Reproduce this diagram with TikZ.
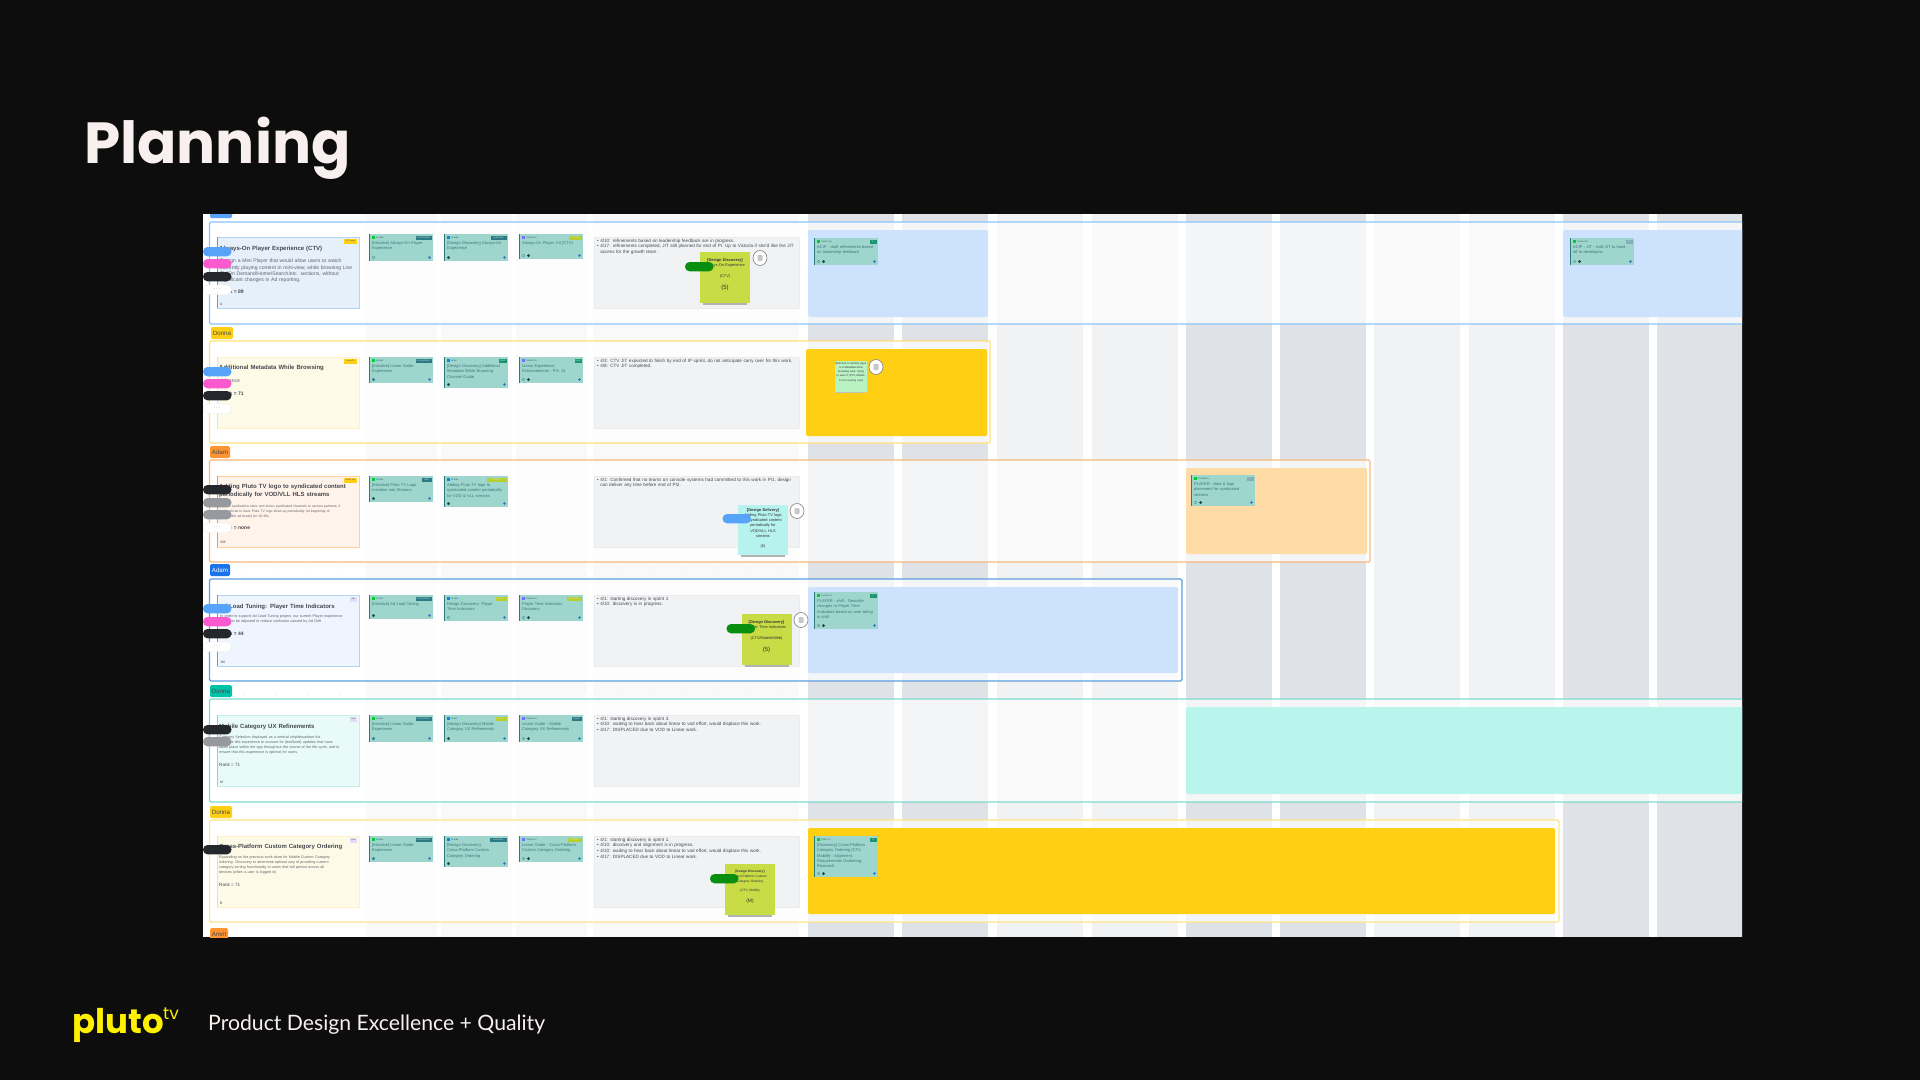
\documentclass[tikz,border=0pt]{standalone}
\usepackage{fontspec}
\setmainfont{Liberation Sans}
\newfontfamily\slidefont{Lato}
\newfontfamily\logofont{Poppins}
\usetikzlibrary{positioning,calc}
\definecolor{slidebg}{RGB}{13,13,14}
\definecolor{slidetxt}{RGB}{248,240,238}
\definecolor{plutoyel}{RGB}{255,240,0}
\definecolor{banddark}{RGB}{223,226,230}
\definecolor{bandlite}{RGB}{241,242,244}
\definecolor{tealcard}{RGB}{158,213,204}
\definecolor{tealedge}{RGB}{45,122,122}
\definecolor{tealtxt}{RGB}{62,118,120}
\definecolor{tealbadge}{RGB}{44,122,132}
\definecolor{limebadge}{RGB}{182,207,44}
\definecolor{greenbadge}{RGB}{24,150,110}
\definecolor{avdark}{RGB}{25,60,62}
\definecolor{avblue}{RGB}{40,120,190}
\definecolor{stickyolive}{RGB}{200,220,70}
\definecolor{stickycyan}{RGB}{182,243,238}
\definecolor{stickygreen}{RGB}{185,243,196}
\definecolor{blockblue}{RGB}{204,226,253}
\definecolor{blockyel}{RGB}{255,207,20}
\definecolor{blockorg}{RGB}{255,220,166}
\definecolor{blockteal}{RGB}{185,245,236}
\definecolor{pillblue}{RGB}{87,163,250}
\definecolor{pillpink}{RGB}{250,90,205}
\definecolor{pilldark}{RGB}{36,40,44}
\definecolor{pillgray}{RGB}{150,153,158}
\definecolor{pillgreen}{RGB}{8,143,16}
\definecolor{inktxt}{RGB}{70,72,78}
\definecolor{rowblue}{RGB}{140,196,248}
\definecolor{rowyel}{RGB}{255,224,122}
\definecolor{roworg}{RGB}{245,185,122}
\definecolor{rowdeep}{RGB}{91,159,220}
\definecolor{rowteal}{RGB}{122,220,207}
\definecolor{rowpale}{RGB}{251,230,138}
\definecolor{tagorange}{RGB}{255,148,50}
\definecolor{tagblue}{RGB}{26,115,232}
\definecolor{tagteal}{RGB}{0,196,168}
\definecolor{boxviolet}{RGB}{225,220,250}
\definecolor{boxblue}{RGB}{230,240,251}
\definecolor{boxyel}{RGB}{254,250,232}
\definecolor{boxorg}{RGB}{255,243,234}
\definecolor{boxsky}{RGB}{238,245,254}
\definecolor{boxcyan}{RGB}{232,251,249}
\tikzset{
  rowframe/.style={line width=1.1pt,rounded corners=1.5pt,fill=white,fill opacity=.68},
  tagnode/.style={anchor=center,inner sep=0pt,font=\fontsize{6.2}{7}\selectfont,text=inktxt},
  titletxt/.style={anchor=north west,inner sep=0pt,align=left,text width=140pt,font=\bfseries\fontsize{6}{8}\selectfont,text=inktxt},
  bodytxt/.style={anchor=north west,inner sep=0pt,align=left,text width=140pt,font=\fontsize{5.1}{6.3}\selectfont,text=inktxt!85},
  smalltxt/.style={anchor=north west,inner sep=0pt,align=left,text width=140pt,font=\fontsize{3.7}{5.1}\selectfont,text=inktxt!85},
  ranktxt/.style={anchor=west,inner sep=0pt,font=\bfseries\fontsize{5}{5.5}\selectfont,text=inktxt},
  lettertxt/.style={anchor=west,inner sep=0pt,font=\fontsize{3.5}{4}\selectfont,text=inktxt},
  notetxt/.style={anchor=north west,inner sep=0pt,align=left,text width=200pt,font=\fontsize{4.6}{5.8}\selectfont,text=inktxt},
  cardtxt/.style={anchor=north west,inner sep=0pt,align=left,text width=60pt,font=\fontsize{4}{5.3}\selectfont,text=tealtxt},
  keytxt/.style={anchor=west,inner sep=0pt,font=\fontsize{2}{2.4}\selectfont,text=tealedge!70!black},
  badgetxt/.style={anchor=center,inner sep=0pt,font=\fontsize{1.9}{2.2}\selectfont,text=white!80!tealbadge},
  stickytxt/.style={anchor=north,inner sep=0pt,align=center,text width=48pt,font=\fontsize{3.9}{5.3}\selectfont,text=black!80},
  pillshape/.style={rounded corners=4.5pt},
  dottxt/.style={anchor=center,inner sep=0pt,font=\bfseries\fontsize{5}{5}\selectfont,text=inktxt},
  every node/.append style={execute at begin node={\hyphenpenalty=10000\relax}}
}
\begin{document}
\begin{tikzpicture}[x=1pt,y=-1pt]
  \useasboundingbox (0,0) rectangle (1920,1080);
  \fill[slidebg] (0,0) rectangle (1920,1080);
  \node[anchor=base west,inner sep=0pt,text=slidetxt,font=\logofont\bfseries\fontsize{58}{58}\selectfont] (slidetitle) at (84,163) {Planning};
  \node[anchor=base west,inner sep=0pt,text=plutoyel,font=\logofont\bfseries\fontsize{34}{34}\selectfont] (plutologo) at (72,1033) {pluto};
  \node[anchor=base west,inner sep=0pt,text=plutoyel,font=\logofont\fontsize{17}{17}\selectfont] (plutotv) at (163,1019) {tv};
  \node[anchor=base west,inner sep=0pt,text=slidetxt,font=\slidefont\fontsize{21.2}{22}\selectfont] (tagline) at (208,1030) {Product Design Excellence + Quality};

  \begin{scope}
    \clip (203,214.5) rectangle (1742,937);
    \fill[white] (203,214) rectangle (1742,937);
    % week columns
    \foreach \x in {366,441,516}{\fill[bandlite!45] (\x,214) rectangle ++(71,723);}
    \fill[bandlite!45] (593,214) rectangle (799,937);
    \foreach \x in {808,902,1186,1280,1563,1657}{\fill[banddark] (\x,214) rectangle ++(86,723);}
    \foreach \x in {997,1092,1374,1469}{\fill[bandlite] (\x,214) rectangle ++(86,723);}

    % row frames
    \draw[rowframe,draw=rowblue] (209.5,222) rectangle (1760,324);
    \draw[rowframe,draw=rowyel] (209.5,341) rectangle (990,443);
    \draw[rowframe,draw=roworg] (209.5,460) rectangle (1370,562);
    \draw[rowframe,draw=rowdeep] (209.5,579) rectangle (1182,681);
    \draw[rowframe,draw=rowteal] (209.5,699) rectangle (1760,802);
    \draw[rowframe,draw=rowpale] (209.5,820) rectangle (1559,922);

    % faint grid between rows
    \foreach \y in {568,694}{
      \foreach \x in {244,276,308,340,591,622,654,685,717,749,781}{\fill[black!22] (\x,\y) circle (.5);}
    }

    % owner tags
    \foreach \n/\x/\y/\w/\c/\t/\tc in {tagA/210/206/22/pillblue/Pruthvi/inktxt,tagB/211/327/22/blockyel/Donna/inktxt,tagC/210/446/20/tagorange/Adam/inktxt,tagD/210/564/20/tagblue/Adam/white,tagE/210/685/22/tagteal/Donna/inktxt,tagF/210/806/22/blockyel/Donna/inktxt,tagG/210/928/18/tagorange/Amrit/inktxt}{
      \fill[\c,rounded corners=1.5pt] (\x,\y) rectangle ++(\w,12);
      \node[tagnode,text=\tc] (\n) at (\x+\w/2,\y+6) {\t};
    }

    % coloured timeline blocks
    \foreach \xa/\ya/\xb/\yb/\c in {808/230/988/317/blockblue,1563/230/1760/317/blockblue,806/349/987/436/blockyel,1186/468/1367/554/blockorg,808/587/1178/673/blockblue,1186/707/1760/794/blockteal,808/828/1555/914/blockyel}{
      \fill[\c,rounded corners=1.5pt] (\xa,\ya) rectangle (\xb,\yb);
    }

    % feature boxes with title and rank
    \foreach \n/\y/\c/\e/\b/\bc/\bw in {1/237/boxblue/rowdeep/CTV Home/blockyel/13,2/357/boxyel/rowyel/Linear TV/blockyel/13,3/476/boxorg/tagorange/AVOD Ads/blockyel/13,4/595/boxsky/rowdeep/Ads/boxviolet/7,5/715/boxcyan/rowteal/Data/boxviolet/7,6/836/boxyel/rowyel/Data/boxviolet/7}{
      \fill[\c,draw=\e!45,line width=.4pt] (217,\y) rectangle (359,\y+71);
      \fill[\e] (217,\y) rectangle ++(1,71);
      \fill[\bc] (357-\bw,\y+2) rectangle ++(\bw,4.5);
      \node[anchor=center,inner sep=0pt,font=\fontsize{1.9}{2.2}\selectfont,text=inktxt] (boxtag\n) at (357-\bw/2,\y+4.2) {\b};
    }
    \node[titletxt] (titleA) at (219,246) {Always-On Player Experience (CTV)};
    \node[bodytxt] (bodyA) at (220,259) {Design a Mini Player that would allow users to watch\\currently playing content in mini-view, while browsing Live\\TV/On Demand/Home/Search/etc. sections, without\\significant changes in Ad reporting.};
    \node[ranktxt] (rankA) at (220,292) {Rank = 89};
    \node[lettertxt] (letterA) at (220,304) {A};
    \node[titletxt] (titleB) at (219,365) {Additional Metadata While Browsing};
    \node[bodytxt] (bodyB) at (220,378.5) {Advance};
    \node[ranktxt] (rankB) at (220,393.5) {Rank = 71};
    \node[titletxt] (titleC) at (219,483.5) {Adding Pluto TV logo to syndicated content\\periodically for VOD/VLL HLS streams};
    \node[smalltxt,font=\fontsize{3.4}{5}\selectfont] (bodyC) at (220,504.5) {Let the syndication store and stores syndicated channels to various partners, it\\is beneficial to have Pluto TV logo show up periodically (at beginning of\\each, after ad break) for 10-30s.};
    \node[ranktxt] (rankC) at (220,528) {Rank = none};
    \node[lettertxt] (letterC) at (220,542) {SM};
    \node[titletxt] (titleD) at (219,603.5) {Ad Load Tuning: Player Time Indicators};
    \node[smalltxt] (bodyD) at (220,614.5) {In order to support Ad Load Tuning project, our current Player experience\\needs to be adjusted to reduce confusion caused by Ad Drift};
    \node[ranktxt] (rankD) at (220,634) {Rank = 44};
    \node[lettertxt] (letterD) at (220,662) {JM};
    \node[titletxt] (titleE) at (219,723.5) {Mobile Category UX Refinements};
    \node[smalltxt] (bodyE) at (219,735.5) {Category Selection displayed as a vertical strip/dropdown list.\\Evaluate title experience to account for (bet/fixed) updates that have\\taken place within the app throughout the course of the life cycle, and to\\ensure that this experience is optimal for users.};
    \node[ranktxt,font=\fontsize{4.6}{5}\selectfont] (rankE) at (219,765) {Rank = 71};
    \node[lettertxt] (letterE) at (220,782) {M};
    \node[titletxt] (titleF) at (219,844) {Cross-Platform Custom Category Ordering};
    \node[smalltxt] (bodyF) at (219,855.5) {Expanding on the previous work done for Mobile Custom Category\\ordering. Discovery to determine optimal way of providing custom\\category sorting functionality to users that will persist across all\\devices (when a user is logged in)};
    \node[ranktxt,font=\fontsize{4.6}{5}\selectfont] (rankF) at (219,885) {Rank = 71};
    \node[lettertxt] (letterF) at (220,903) {B};

    % status notes
    \foreach \n/\y/\t in {A/237/{\textbullet\ 4/10: refinements based on leadership feedback are in progress.\\\textbullet\ 4/17: refinements completed, JIT still planned for end of PI. Up to Victoria if she'd like the JIT\\\ \ access for the growth team.},
      B/357/{\textbullet\ 4/3: CTV JIT expected to finish by end of IP sprint, do not anticipate carry over for this work.\\\textbullet\ 4/8: CTV JIT completed.},
      C/476/{\textbullet\ 4/1: Confirmed that no teams on console systems had committed to this work in PI1, design\\\ \ can deliver any time before end of PI2.},
      D/595/{\textbullet\ 4/1: starting discovery in sprint 1\\\textbullet\ 4/10: discovery is in progress.},
      E/715/{\textbullet\ 4/1: starting discovery in sprint 3.\\\textbullet\ 4/10: waiting to hear back about linear to vod effort, would displace this work.\\\textbullet\ 4/17: DISPLACED due to VOD to Linear work.},
      F/836/{\textbullet\ 4/1: starting discovery in sprint 1.\\\textbullet\ 4/10: discovery and alignment is in progress.\\\textbullet\ 4/10: waiting to hear back about linear to vod effort, would displace this work.\\\textbullet\ 4/17: DISPLACED due to VOD to Linear work.}}{
      \fill[bandlite,draw=banddark!70,line width=.4pt] (594,\y) rectangle (799,\y+71);
      \node[notetxt] (note\n) at (597,\y+1.5) {\t};
    }

    % ticket cards
    \foreach \n/\x/\y/\h/\k/\ic/\b/\bc/\bw/\ca/\cb/\t in {
      a1/369/234/27/IN-1188/green!60!teal/IN PROGRESS/tealbadge/16/tealcard/tealcard/{[Initiative] Always-On Player\\Experience},
      a2/444/234/27/IN-1189/cyan!70!blue/IN REVIEW/tealbadge/16/avdark/tealcard/{[Design Discovery] Always-On\\Experience},
      a3/519/234/25/TASKS-997/blue!55/BLOCKED/limebadge/13/tealcard/avdark/{Always-On Player 3.0 [CTV]},
      b1/369/357/26/IN-1164/green!60!teal/IN PROGRESS/tealbadge/16/avblue/tealcard/{[Initiative] Linear Guide\\Experience},
      b2/444/357/31/IN-987/cyan!70!blue/DONE/greenbadge/8/avdark/tealcard/{[Design Discovery] Additional\\Metadata While Browsing\\Channel Guide},
      b3/519/357/26/TASKS-710/blue!55/DONE/greenbadge/7/tealcard/avdark/{Linear Experience\\Enhancements - P.S. 24},
      c1/369/476/26/IN-1206/green!60!teal/IDEA/tealbadge/10/avdark/tealcard/{[Initiative] Pluto TV Logo\\Insertion into Streams},
      c2/444/476/31/IN-1209/cyan!70!blue/IN ANALYSIS/limebadge/20/avdark/tealcard/{Adding Pluto TV logo to\\syndicated content periodically\\for VOD \& VLL streams},
      d1/369/595/24/IN-1187/green!60!teal/IN PROGRESS/tealbadge/16/avdark/tealcard/{[Initiative] Ad Load Tuning},
      d2/444/595/26/IN-1190/cyan!70!blue/READY/limebadge/11/tealcard/tealcard/{Design Discovery: Player\\Time Indicators},
      d3/519/595/26/TASKS-912/blue!55/BLOCKED/limebadge/15/tealcard/avdark/{Player Time Indicators\\Discovery},
      e1/369/715/27/IN-1164/green!60!teal/IN PROGRESS/tealbadge/16/avblue/tealcard/{[Initiative] Linear Guide\\Experience},
      e2/444/715/27/IN-863/cyan!70!blue/READY/limebadge/11/avdark/tealcard/{[Design Discovery] Mobile\\Category UX Refinements},
      e3/519/715/27/TASKS-631/blue!55/DONE/tealbadge/10/tealcard/avdark/{Linear Guide - Mobile\\Category UX Refinements},
      f1/369/836/26/IN-1164/green!60!teal/IN PROGRESS/tealbadge/16/avblue/tealcard/{[Initiative] Linear Guide\\Experience},
      f2/444/836/31/IN-1088/cyan!70!blue/IN REVIEW/tealbadge/17/avdark/tealcard/{[Design Discovery]\\Cross-Platform Custom\\Category Ordering},
      f3/519/836/26/TASKS-647/blue!55/BLOCKED/limebadge/14/tealcard/avdark/{Linear Guide - Cross-Platform\\Custom Category Ordering},
      g1/814/238/27/TASKS-758/green!60!teal/N/greenbadge/7/tealcard/avdark/{ACIP - draft refinements based\\on leadership feedback},
      g2/1570/238/27/TASKS-758/green!60!teal/N/tealbadge!60/7/tealcard/avdark/{ACIP - JIT - hold JIT to hand\\off to developers},
      g3/1191/475/31/PLAYER-61/green!60!teal/N/tealbadge!60/7/tealcard/avdark/{PLAYER - data \& logo\\placement for syndicated\\streams},
      g4/814/592/37/PLAYER-73/green!60!teal/N/greenbadge/7/tealcard/avdark/{PLAYER - shift - Describe\\changes to Player Time\\Indicators based on user being\\in shift},
      g5/814/836/41/TASKS-76/green!60!teal/N/greenbadge/7/tealcard/avdark/{[Discovery] Cross-Platform\\Category Ordering [CTV,\\Mobile] - Alignment,\\Requirements Gathering,\\Research}}{
      \fill[tealcard] (\x,\y) rectangle ++(64,\h);
      \fill[tealedge] (\x,\y) rectangle ++(.9,\h);
      \fill[\ic] (\x+2.5,\y+2.2) rectangle ++(3,3.2);
      \node[keytxt] (key\n) at (\x+7,\y+3.8) {\k};
      \fill[\bc] (\x+62.5-\bw,\y+1.8) rectangle ++(\bw,4);
      \node[badgetxt] (badge\n) at (\x+62.5-\bw/2,\y+3.8) {\b};
      \node[cardtxt] (card\n) at (\x+3,\y+7.5) {\t};
      \fill[avblue] (\x+60.5,\y+\h-3.5) circle (1.3);
      \fill[\ca,draw=tealedge,line width=.3pt] (\x+4.5,\y+\h-3.5) circle (1.5);
      \fill[\cb] (\x+9.5,\y+\h-3.5) circle (1.5);
    }

    % stickies on top of the notes
    \foreach \n/\x/\y/\h/\c in {A/700/252/51/stickyolive,C/738/505/50/stickycyan,D/741.5/614/51/stickyolive,F/725/864/51/stickyolive}{
      \fill[black!30] (\x+3,\y+2) rectangle (\x+47,\y+\h+2);
      \fill[\c] (\x,\y) rectangle ++(50,\h);
    }
    \fill[black!25] (836,362) rectangle (866,393);
    \fill[stickygreen] (835,361) rectangle (867,392);
    \node[stickytxt] (stickyA) at (725,258.5) {\textbf{[Design Discovery]}\\Always-On Experience\\[5.5pt](CTV)\\[7pt]\fontsize{6}{7}\selectfont(5)};
    \node[stickytxt] (stickyC) at (763,508) {\textbf{[Design Delivery]}\\Adding Pluto TV logo\\to syndicated content\\periodically for\\VOD/VLL HLS\\streams\\[5pt](6)};
    \node[stickytxt] (stickyD) at (766.5,620.5) {\textbf{[Design Discovery]}\\Player Time Indicators\\[5.5pt](CTV/Mobile/Web)\\[7pt]\fontsize{6}{7}\selectfont(5)};
    \node[stickytxt,font=\fontsize{3.2}{4.8}\selectfont] (stickyF) at (750,870) {\textbf{[Design Discovery]}\\Cross-Platform Custom\\Category Ordering\\[4.4pt](CTV, Mobile)\\[6pt]\fontsize{5}{6}\selectfont(M)};
    \node[stickytxt,text width=31pt,font=\fontsize{2.7}{4.1}\selectfont] (stickyB) at (851,362.5) {[Element to identify logos in a Metadata while browsing work, trying to learn if (CTV, Mobile, is not currying over]};

    % vote circles
    \foreach \n/\x/\y/\c in {A/760/258/white,B/876/367/white,C/797/511/white,D/801/620/white}{
      \fill[\c,draw=black!45,line width=.7pt] (\x,\y) ellipse (7 and 7.5);
      \fill[black!22,rounded corners=.8pt] (\x-2.5,\y-3) rectangle (\x+2.5,\y+3);
    }

    % pills on top of the boxes
    \foreach \x/\y/\c in {685/262/pillgreen,722.5/514/pillblue,726.5/624/pillgreen,710/874/pillgreen,
      203/247/pillblue,203/259/pillpink,203/272/pilldark,
      203/367/pillblue,203/379/pillpink,203/391/pilldark,
      203/485/pilldark,203/498/pillgray,203/510/pillgray,
      203/604/pillblue,203/617/pillpink,203/629/pilldark,
      203/725/pilldark,203/737/pillgray,203/845/pilldark}{
      \fill[\c,pillshape] (\x,\y) rectangle ++(28.5,9.3);
    }
    \foreach \n/\y in {A/285,B/404,C/523,D/642}{
      \fill[white,draw=black!8,line width=.4pt,pillshape] (203,\y) rectangle ++(28.5,9.5);
      \node[dottxt] (more\n) at (217,\y+4.5) {$\cdot\!\cdot\!\cdot$};
    }
  \end{scope}
\end{tikzpicture}
\end{document}
